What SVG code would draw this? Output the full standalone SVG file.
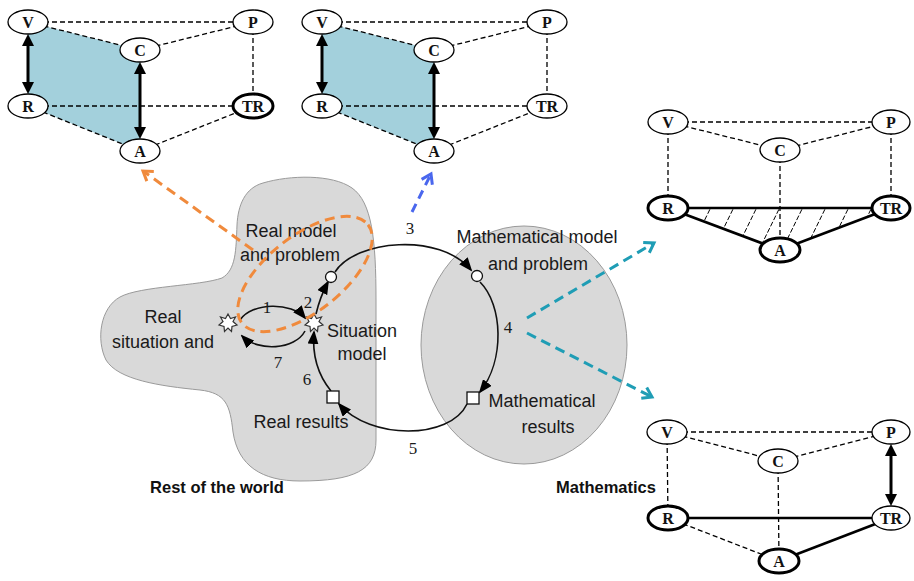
<svg xmlns="http://www.w3.org/2000/svg" width="914" height="581" viewBox="0 0 914 581">
<defs>
<style>
.n ellipse{fill:#fff;stroke:#000;stroke-width:1.3}
.n.b ellipse{stroke-width:3}
.n text{font-family:"Liberation Serif","Times New Roman",serif;font-weight:bold;font-size:16px;text-anchor:middle;dominant-baseline:central;fill:#111}
.d{stroke:#000;stroke-width:1.3;stroke-dasharray:5 3;fill:none}
.s{stroke:#000;stroke-width:2.6;fill:none}
.da{stroke:#000;stroke-width:3;fill:none;marker-start:url(#bh);marker-end:url(#bh)}
.lbl{font-family:"Liberation Sans",Arial,sans-serif;font-size:18px;fill:#1a1a1a}
.c{text-anchor:middle}
.bold{font-weight:bold;font-size:16.5px;fill:#111}
.num{font-family:"Liberation Serif","Times New Roman",serif;font-size:17px;fill:#1a1a1a;text-anchor:middle}
.cyc{stroke:#111;stroke-width:1.6;fill:none;marker-end:url(#ah)}
.hat{stroke:#000;stroke-width:1;stroke-dasharray:5 2;fill:none}
.region{fill:#d9d9d9;stroke:#9a9a9a;stroke-width:1}
</style>
<marker id="bh" markerUnits="userSpaceOnUse" viewBox="0 0 12 12" refX="3" refY="6" markerWidth="12" markerHeight="12" orient="auto-start-reverse"><path d="M0,0 L12,6 L0,12 z" fill="#000"/></marker>
<marker id="ah" markerUnits="userSpaceOnUse" viewBox="0 0 14 11" refX="12" refY="5.5" markerWidth="14" markerHeight="11" orient="auto"><path d="M0,0 L14,5.5 L0,11 z" fill="#000"/></marker>
<marker id="oh" markerUnits="userSpaceOnUse" viewBox="-2 -2 14 16" refX="9" refY="6" markerWidth="14" markerHeight="16" orient="auto"><path d="M0,0 L9,6 L0,12" fill="none" stroke="#f08a3c" stroke-width="3"/></marker>
<marker id="bbh" markerUnits="userSpaceOnUse" viewBox="-2 -2 14 16" refX="9" refY="6" markerWidth="14" markerHeight="16" orient="auto"><path d="M0,0 L9,6 L0,12" fill="none" stroke="#4a67ee" stroke-width="3"/></marker>
<marker id="th" markerUnits="userSpaceOnUse" viewBox="-2 -2 14 16" refX="9" refY="6" markerWidth="14" markerHeight="16" orient="auto"><path d="M0,0 L9,6 L0,12" fill="none" stroke="#1f9db5" stroke-width="3"/></marker>
<clipPath id="tri"><polygon points="668,208 891,208 780,250"/></clipPath>
<polygon id="star" points="0,-9 2.5,-4.5 7.5,-6 5,-1.5 9,2 4,3.5 3.5,8.5 0,5 -3.5,8.5 -4,3.5 -9,2 -5,-1.5 -7.5,-6 -2.5,-4.5" fill="#fff" stroke="#333" stroke-width="1.2"/>
</defs>

<!-- regions -->
<g id="rest-of-world">
<path class="region" d="M263,183 C290,175 332,174 352,188 C372,202 376,240 376,300 L376,440 C376,470 355,481 300,481 C262,481 238,466 233,432 C230,405 226,393 200,390 C160,386 118,380 106,360 C96,340 100,308 120,297 C140,286 200,286 222,278 C236,270 236,250 237,225 C238,205 245,188 263,183 Z"/>
<text class="lbl bold c" x="217" y="493">Rest of the world</text>
</g>
<g id="mathematics">
<ellipse class="region" cx="524" cy="345" rx="103" ry="119"/>
<text class="lbl bold" x="556" y="493">Mathematics</text>
</g>

<!-- prism shading -->
<polygon points="28,22 140,50 140,151 28,106" fill="#a3d0dc"/>
<polygon points="322,22 434,50 434,151 322,106" fill="#a3d0dc"/>
<g clip-path="url(#tri)">
<line class="hat" x1="690" y1="203" x2="666" y2="252"/>
<line class="hat" x1="713" y1="203" x2="689" y2="252"/>
<line class="hat" x1="736" y1="203" x2="712" y2="252"/>
<line class="hat" x1="759" y1="203" x2="735" y2="252"/>
<line class="hat" x1="782" y1="203" x2="758" y2="252"/>
<line class="hat" x1="805" y1="203" x2="781" y2="252"/>
<line class="hat" x1="828" y1="203" x2="804" y2="252"/>
<line class="hat" x1="851" y1="203" x2="827" y2="252"/>
<line class="hat" x1="874" y1="203" x2="850" y2="252"/>
<line class="hat" x1="897" y1="203" x2="873" y2="252"/>
</g>

<g id="connectors">
<!-- top-left prism -->
<line class="d" x1="28" y1="22" x2="253" y2="22"/>
<line class="d" x1="28" y1="22" x2="140" y2="50"/>
<line class="d" x1="140" y1="50" x2="253" y2="22"/>
<line class="d" x1="253" y1="22" x2="253" y2="106"/>
<line class="d" x1="28" y1="106" x2="253" y2="106"/>
<line class="d" x1="28" y1="106" x2="140" y2="151"/>
<line class="d" x1="140" y1="151" x2="253" y2="106"/>
<line class="da" x1="28" y1="43" x2="28" y2="85"/>
<line class="da" x1="140" y1="71" x2="140" y2="130"/>
<!-- top-middle prism -->
<line class="d" x1="322" y1="22" x2="547" y2="22"/>
<line class="d" x1="322" y1="22" x2="434" y2="50"/>
<line class="d" x1="434" y1="50" x2="547" y2="22"/>
<line class="d" x1="547" y1="22" x2="547" y2="106"/>
<line class="d" x1="322" y1="106" x2="547" y2="106"/>
<line class="d" x1="322" y1="106" x2="434" y2="151"/>
<line class="d" x1="434" y1="151" x2="547" y2="106"/>
<line class="da" x1="322" y1="43" x2="322" y2="85"/>
<line class="da" x1="434" y1="71" x2="434" y2="130"/>
<!-- right-top prism -->
<line class="d" x1="668" y1="122" x2="891" y2="122"/>
<line class="d" x1="668" y1="122" x2="780" y2="150"/>
<line class="d" x1="780" y1="150" x2="891" y2="122"/>
<line class="d" x1="668" y1="122" x2="668" y2="208"/>
<line class="d" x1="891" y1="122" x2="891" y2="208"/>
<line class="d" x1="780" y1="150" x2="780" y2="250"/>
<line class="s" x1="668" y1="208" x2="891" y2="208"/>
<line class="s" x1="668" y1="208" x2="780" y2="250"/>
<line class="s" x1="780" y1="250" x2="891" y2="208"/>
<!-- right-bottom prism -->
<line class="d" x1="667" y1="432" x2="891" y2="432"/>
<line class="d" x1="667" y1="432" x2="778" y2="461"/>
<line class="d" x1="778" y1="461" x2="891" y2="432"/>
<line class="d" x1="667" y1="432" x2="668" y2="518"/>
<line class="d" x1="778" y1="461" x2="779" y2="561"/>
<line class="d" x1="668" y1="518" x2="779" y2="561"/>
<line class="s" x1="668" y1="518" x2="891" y2="518"/>
<line class="s" x1="779" y1="561" x2="891" y2="518"/>
<line class="da" x1="891" y1="453" x2="891" y2="497"/>
<!-- modelling cycle -->
<path class="cyc" d="M240,320 C252,302 292,302 305,318"/>
<path class="cyc" d="M305,331 C295,350 258,352 242,336"/>
<path class="cyc" d="M316,314 Q320,297 328,282"/>
<path class="cyc" d="M335,272 C355,240 440,232 471,270"/>
<path class="cyc" d="M480,282 C503,305 505,360 480,392"/>
<path class="cyc" d="M467,404 C450,440 370,440 339,404"/>
<path class="cyc" d="M331,391 C318,375 312,355 314,332"/>
<!-- coloured pointers -->
<line x1="253" y1="250" x2="143" y2="171" stroke="#f08a3c" stroke-width="3" stroke-dasharray="10 6" marker-end="url(#oh)"/>
<line x1="412" y1="212" x2="431" y2="174" stroke="#4a67ee" stroke-width="3" stroke-dasharray="9 6" marker-end="url(#bbh)"/>
<line x1="527" y1="318" x2="654" y2="243" stroke="#1f9db5" stroke-width="3" stroke-dasharray="10 6" marker-end="url(#th)"/>
<line x1="527" y1="333" x2="652" y2="397" stroke="#1f9db5" stroke-width="3" stroke-dasharray="10 6" marker-end="url(#th)"/>
</g>

<!-- top-left prism nodes -->
<g id="tl-V" class="n"><ellipse cx="28" cy="22" rx="20" ry="12"/><text x="28" y="22">V</text></g>
<g id="tl-P" class="n"><ellipse cx="253" cy="22" rx="20" ry="12"/><text x="253" y="22">P</text></g>
<g id="tl-C" class="n"><ellipse cx="140" cy="50" rx="20" ry="12"/><text x="140" y="50">C</text></g>
<g id="tl-R" class="n"><ellipse cx="28" cy="106" rx="20" ry="12"/><text x="28" y="106">R</text></g>
<g id="tl-TR" class="n b"><ellipse cx="253" cy="106" rx="20" ry="12"/><text x="253" y="106">TR</text></g>
<g id="tl-A" class="n"><ellipse cx="140" cy="151" rx="20" ry="12"/><text x="140" y="151">A</text></g>
<!-- top-middle prism nodes -->
<g id="tm-V" class="n"><ellipse cx="322" cy="22" rx="20" ry="12"/><text x="322" y="22">V</text></g>
<g id="tm-P" class="n"><ellipse cx="547" cy="22" rx="20" ry="12"/><text x="547" y="22">P</text></g>
<g id="tm-C" class="n"><ellipse cx="434" cy="50" rx="20" ry="12"/><text x="434" y="50">C</text></g>
<g id="tm-R" class="n"><ellipse cx="322" cy="106" rx="20" ry="12"/><text x="322" y="106">R</text></g>
<g id="tm-TR" class="n"><ellipse cx="547" cy="106" rx="20" ry="12"/><text x="547" y="106">TR</text></g>
<g id="tm-A" class="n"><ellipse cx="434" cy="151" rx="20" ry="12"/><text x="434" y="151">A</text></g>
<!-- right-top prism nodes -->
<g id="rt-V" class="n"><ellipse cx="668" cy="122" rx="20" ry="12"/><text x="668" y="122">V</text></g>
<g id="rt-P" class="n"><ellipse cx="891" cy="122" rx="19" ry="12"/><text x="891" y="122">P</text></g>
<g id="rt-C" class="n"><ellipse cx="780" cy="150" rx="20" ry="12"/><text x="780" y="150">C</text></g>
<g id="rt-R" class="n b"><ellipse cx="668" cy="208" rx="20" ry="12"/><text x="668" y="208">R</text></g>
<g id="rt-TR" class="n b"><ellipse cx="891" cy="208" rx="19" ry="12"/><text x="891" y="208">TR</text></g>
<g id="rt-A" class="n b"><ellipse cx="780" cy="250" rx="20" ry="12"/><text x="780" y="250">A</text></g>
<!-- right-bottom prism nodes -->
<g id="rb-V" class="n"><ellipse cx="667" cy="432" rx="20" ry="12"/><text x="667" y="432">V</text></g>
<g id="rb-P" class="n"><ellipse cx="891" cy="432" rx="19" ry="12"/><text x="891" y="432">P</text></g>
<g id="rb-C" class="n"><ellipse cx="778" cy="461" rx="20" ry="12"/><text x="778" y="461">C</text></g>
<g id="rb-R" class="n b"><ellipse cx="668" cy="518" rx="20" ry="12"/><text x="668" y="518">R</text></g>
<g id="rb-TR" class="n"><ellipse cx="891" cy="518" rx="19" ry="12"/><text x="891" y="518">TR</text></g>
<g id="rb-A" class="n b"><ellipse cx="779" cy="561" rx="20" ry="12"/><text x="779" y="561">A</text></g>

<!-- cycle nodes -->
<g id="real-situation"><use href="#star" x="228" y="323"/><text class="lbl c" x="163" y="323">Real</text><text class="lbl c" x="163" y="348">situation and</text></g>
<g id="situation-model"><use href="#star" x="314" y="323"/><text class="lbl" x="327" y="337">Situation</text><text class="lbl c" x="362" y="360">model</text></g>
<g id="real-model"><circle cx="331" cy="277" r="5.5" fill="#fff" stroke="#111" stroke-width="1.3"/><text class="lbl c" x="291" y="237">Real model</text><text class="lbl c" x="290" y="261">and problem</text></g>
<g id="math-model"><circle cx="477" cy="276" r="5.5" fill="#fff" stroke="#111" stroke-width="1.3"/><text class="lbl c" x="537" y="243">Mathematical model</text><text class="lbl c" x="538" y="270">and problem</text></g>
<g id="math-results"><rect x="467" y="392" width="12" height="12" fill="#fff" stroke="#111" stroke-width="1.3"/><text class="lbl c" x="542" y="407">Mathematical</text><text class="lbl c" x="548" y="433">results</text></g>
<g id="real-results"><rect x="327" y="391" width="12" height="12" fill="#fff" stroke="#111" stroke-width="1.3"/><text class="lbl c" x="301" y="428">Real results</text></g>

<g id="step-numbers">
<text class="num" x="267" y="313">1</text>
<text class="num" x="308" y="308">2</text>
<text class="num" x="410" y="234">3</text>
<text class="num" x="508" y="333">4</text>
<text class="num" x="413" y="454">5</text>
<text class="num" x="307" y="385">6</text>
<text class="num" x="278" y="368">7</text>
</g>

<ellipse id="focus-ring" cx="305" cy="274" rx="80" ry="38" transform="rotate(-38 305 274)" fill="none" stroke="#f08a3c" stroke-width="3" stroke-dasharray="10 6"/>
</svg>
